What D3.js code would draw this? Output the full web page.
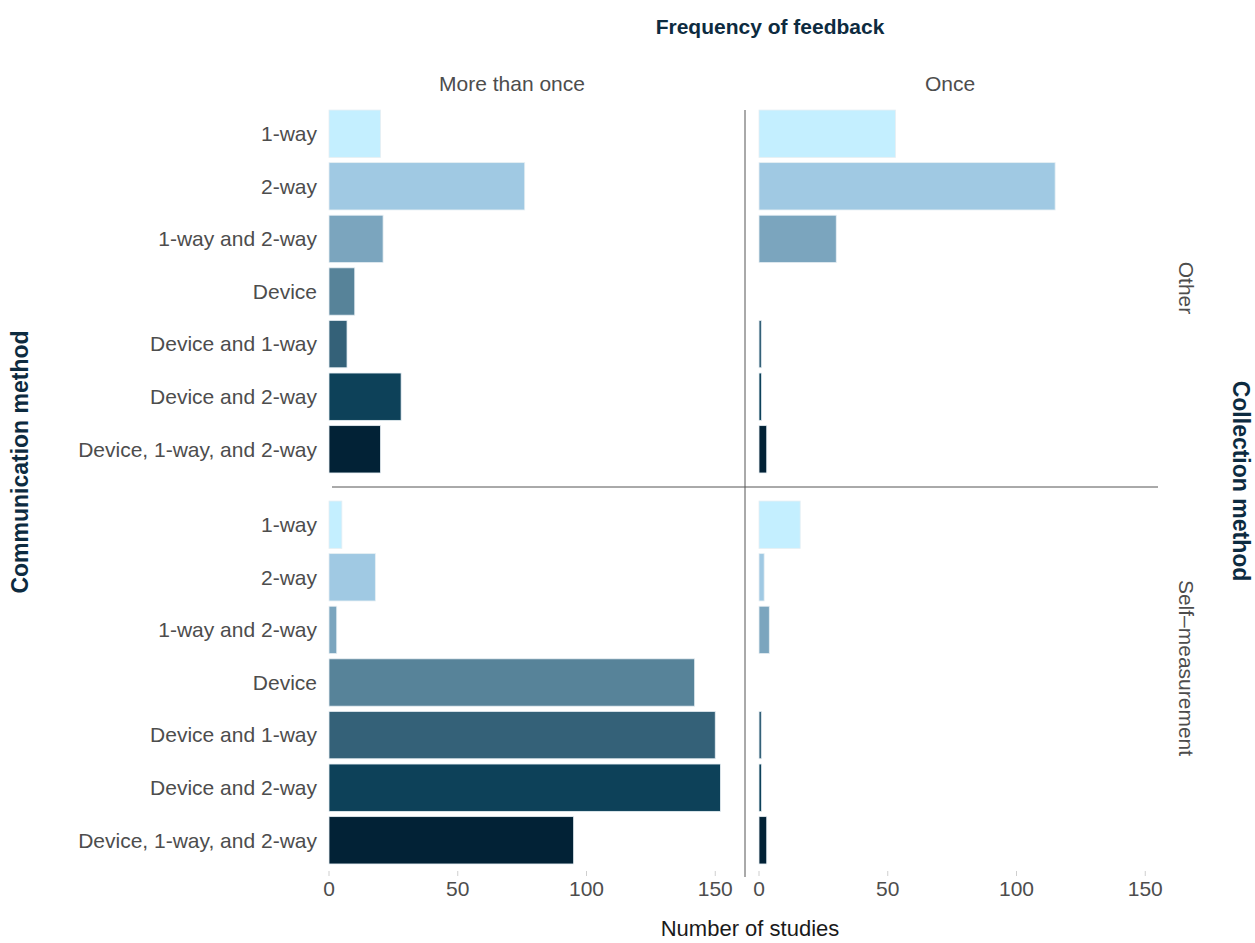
<!DOCTYPE html>
<html lang="en">
<head>
<meta charset="UTF-8">
<title>Communication method by collection method and frequency of feedback</title>
<script src="https://d3js.org/d3.v7.min.js"></script>
<style>
    body { margin: 0; background: #fff; font-family: "Liberation Sans", Arial, sans-serif; }
    svg { display: block; }
    .cat { font-size: 21px; fill: #4d4d4d; text-anchor: end; }
    .strip { font-size: 21px; fill: #4d4d4d; }
    .title { font-size: 21px; font-weight: bold; fill: #0d2b40; }
    .side-title { font-size: 23px; font-weight: bold; fill: #0d2b40; }
    .tick-label { font-size: 21px; fill: #4d4d4d; text-anchor: middle; }
</style>
</head>
<body>
<svg width="1255" height="943"></svg>
<script>
    const methods = ["1-way", "2-way", "1-way and 2-way", "Device", "Device and 1-way", "Device and 2-way", "Device, 1-way, and 2-way"];
    const colors = ["#c4efff", "#a0c9e3", "#7ba5be", "#578399", "#346178", "#0d4159", "#022236"];
    const frequencies = ["More than once", "Once"];
    const collections = ["Other", "Self\u2013measurement"];
    const xTicks = [0, 50, 100, 150];

    // studies per method, one array per panel
    const otherMoreThanOnce = [20, 76, 21, 10, 7, 28, 20];
    const otherOnce = [53, 115, 30, 0, 1, 1, 3];
    const selfMoreThanOnce = [5, 18, 3, 142, 150, 152, 95];
    const selfOnce = [16, 2, 4, 0, 1, 1, 3];

    const svg = d3.select("svg");

    const pxPerUnit = 2.575;
    const xLeft = d3.scaleLinear().domain([0, 155]).range([329, 329 + 155 * pxPerUnit]);
    const xRight = d3.scaleLinear().domain([0, 155]).range([759, 759 + 155 * pxPerUnit]);
    const yTop = d3.scaleBand().domain(methods).range([107.4, 475.6]).paddingInner(0.1).paddingOuter(0.05);
    const yBottom = d3.scaleBand().domain(methods).range([498.4, 866.6]).paddingInner(0.1).paddingOuter(0.05);
    const color = d3.scaleOrdinal().domain(methods).range(colors);

    const panels = [
        { x: xLeft, y: yTop, values: otherMoreThanOnce },
        { x: xRight, y: yTop, values: otherOnce },
        { x: xLeft, y: yBottom, values: selfMoreThanOnce },
        { x: xRight, y: yBottom, values: selfOnce }
    ];

    panels.forEach(p => {
        svg.append("g").selectAll("rect")
            .data(methods.map((m, i) => ({ m, v: p.values[i] })).filter(d => d.v > 0))
            .enter().append("rect")
            .attr("x", p.x(0))
            .attr("y", d => p.y(d.m))
            .attr("width", d => p.x(d.v) - p.x(0))
            .attr("height", p.y.bandwidth())
            .attr("fill", d => color(d.m))
            .attr("stroke", "#e6eef3")
            .attr("stroke-width", 0.8);
    });

    // category labels on the left
    [yTop, yBottom].forEach(y => {
        svg.append("g").selectAll("text")
            .data(methods)
            .enter().append("text")
            .attr("class", "cat")
            .attr("x", 317)
            .attr("y", d => y(d) + y.bandwidth() / 2)
            .attr("dy", "0.35em")
            .text(d => d);
    });

    // x axes
    [xLeft, xRight].forEach(x => {
        const g = svg.append("g");
        g.selectAll("line").data(xTicks).enter().append("line")
            .attr("x1", d => x(d)).attr("x2", d => x(d))
            .attr("y1", 871).attr("y2", 876)
            .attr("stroke", "#cfcfcf").attr("stroke-width", 1);
        g.selectAll("text").data(xTicks).enter().append("text")
            .attr("class", "tick-label")
            .attr("x", d => x(d))
            .attr("y", 896)
            .text(d => d);
    });

    // panel dividers
    svg.append("line").attr("x1", 745).attr("x2", 745).attr("y1", 110).attr("y2", 877)
        .attr("stroke", "#555").attr("stroke-width", 1);
    svg.append("line").attr("x1", 332).attr("x2", 1158).attr("y1", 487).attr("y2", 487)
        .attr("stroke", "#555").attr("stroke-width", 1);

    // strip labels
    svg.append("text").attr("class", "strip").attr("x", 512).attr("y", 91)
        .attr("text-anchor", "middle").text(frequencies[0]);
    svg.append("text").attr("class", "strip").attr("x", 950).attr("y", 91)
        .attr("text-anchor", "middle").text(frequencies[1]);
    svg.append("text").attr("class", "strip").attr("text-anchor", "middle")
        .attr("transform", "translate(1179,288) rotate(90)").text(collections[0]);
    svg.append("text").attr("class", "strip").attr("text-anchor", "middle")
        .attr("transform", "translate(1179,668) rotate(90)").text(collections[1]);

    // titles
    svg.append("text").attr("class", "title").attr("x", 770).attr("y", 34)
        .attr("text-anchor", "middle").text("Frequency of feedback");
    svg.append("text").attr("class", "side-title").attr("text-anchor", "middle")
        .attr("transform", "translate(28,462) rotate(-90)").text("Communication method");
    svg.append("text").attr("class", "side-title").attr("text-anchor", "middle")
        .attr("transform", "translate(1233,481) rotate(90)").text("Collection method");
    svg.append("text").attr("x", 750).attr("y", 936)
        .attr("text-anchor", "middle").attr("font-size", 22).attr("fill", "#1a1a1a")
        .text("Number of studies");
</script>
</body>
</html>
